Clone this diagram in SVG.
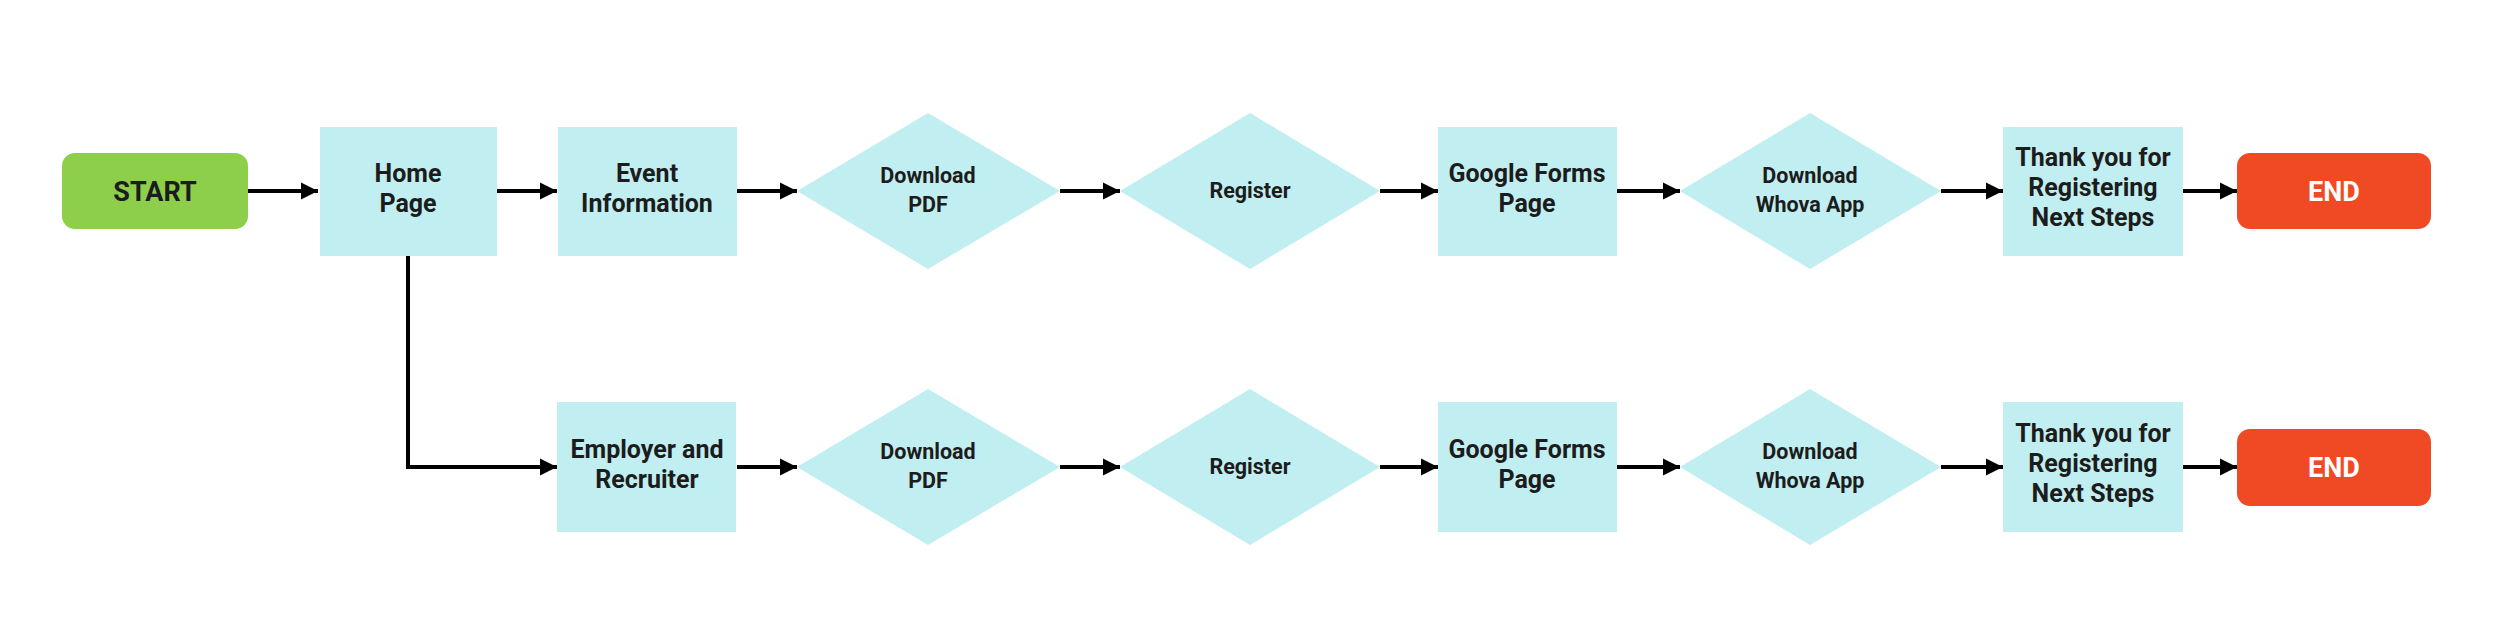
<svg xmlns="http://www.w3.org/2000/svg" width="2496" height="644" viewBox="0 0 2496 644">
<style>
.box{fill:#c1eef0}
.t{font-family:Roboto,"Liberation Sans",sans-serif;font-weight:700;fill:#1c1c1c;text-anchor:middle}
.b{font-size:25px}
.d{font-size:21.5px}
.big{font-size:27px}
.w{fill:#ffffff}
.c{fill:none;stroke:#000;stroke-width:4;marker-end:url(#ah)}
</style>
<defs>
<marker id="ah" markerUnits="userSpaceOnUse" markerWidth="18" markerHeight="18" refX="17" refY="9" orient="auto">
<path d="M0,0.5 L17,9 L0,17.5 z" fill="#000"/>
</marker>
</defs>
<rect width="2496" height="644" fill="#ffffff"/>
<g id="connectors">
<path class="c" d="M248 191 H318"/>
<path class="c" d="M497 191 H557"/>
<path class="c" d="M737 191 H797"/>
<path class="c" d="M1060 191 H1120"/>
<path class="c" d="M1380 191 H1438"/>
<path class="c" d="M1617 191 H1680"/>
<path class="c" d="M1941 191 H2003"/>
<path class="c" d="M2183 191 H2237"/>
<path class="c" d="M408 256 V467 H557"/>
<path class="c" d="M737 467 H797"/>
<path class="c" d="M1060 467 H1120"/>
<path class="c" d="M1380 467 H1438"/>
<path class="c" d="M1617 467 H1680"/>
<path class="c" d="M1941 467 H2003"/>
<path class="c" d="M2183 467 H2237"/>
</g>
<g id="start">
<rect x="62" y="153" width="186" height="76" rx="13" fill="#8dcf4b"/>
<text class="t big" x="155" y="201">START</text>
</g>
<g id="home">
<rect class="box" x="320" y="127" width="177" height="129"/>
<text class="t b" x="408" y="182">Home</text>
<text class="t b" x="408" y="212">Page</text>
</g>
<g id="event">
<rect class="box" x="558" y="127" width="179" height="129"/>
<text class="t b" x="647" y="182">Event</text>
<text class="t b" x="647" y="212">Information</text>
</g>
<g id="pdf1">
<polygon class="box" points="797,191 928,113 1060,191 928,269"/>
<text class="t d" x="928" y="183">Download</text>
<text class="t d" x="928" y="212">PDF</text>
</g>
<g id="register1">
<polygon class="box" points="1120,191 1250,113 1380,191 1250,269"/>
<text class="t d" x="1250" y="198">Register</text>
</g>
<g id="gforms1">
<rect class="box" x="1438" y="127" width="179" height="129"/>
<text class="t b" x="1527" y="182">Google Forms</text>
<text class="t b" x="1527" y="212">Page</text>
</g>
<g id="whova1">
<polygon class="box" points="1680,191 1810,113 1941,191 1810,269"/>
<text class="t d" x="1810" y="183">Download</text>
<text class="t d" x="1810" y="212">Whova App</text>
</g>
<g id="thanks1">
<rect class="box" x="2003" y="127" width="180" height="129"/>
<text class="t b" x="2093" y="166">Thank you for</text>
<text class="t b" x="2093" y="196">Registering</text>
<text class="t b" x="2093" y="226">Next Steps</text>
</g>
<g id="end1">
<rect x="2237" y="153" width="194" height="76" rx="13" fill="#f04a24"/>
<text class="t big w" x="2334" y="201">END</text>
</g>
<g id="employer">
<rect class="box" x="557" y="402" width="179" height="130"/>
<text class="t b" x="647" y="458">Employer and</text>
<text class="t b" x="647" y="488">Recruiter</text>
</g>
<g id="pdf2">
<polygon class="box" points="797,467 928,389 1060,467 928,545"/>
<text class="t d" x="928" y="459">Download</text>
<text class="t d" x="928" y="488">PDF</text>
</g>
<g id="register2">
<polygon class="box" points="1120,467 1250,389 1380,467 1250,545"/>
<text class="t d" x="1250" y="474">Register</text>
</g>
<g id="gforms2">
<rect class="box" x="1438" y="402" width="179" height="130"/>
<text class="t b" x="1527" y="458">Google Forms</text>
<text class="t b" x="1527" y="488">Page</text>
</g>
<g id="whova2">
<polygon class="box" points="1680,467 1810,389 1941,467 1810,545"/>
<text class="t d" x="1810" y="459">Download</text>
<text class="t d" x="1810" y="488">Whova App</text>
</g>
<g id="thanks2">
<rect class="box" x="2003" y="402" width="180" height="130"/>
<text class="t b" x="2093" y="442">Thank you for</text>
<text class="t b" x="2093" y="472">Registering</text>
<text class="t b" x="2093" y="502">Next Steps</text>
</g>
<g id="end2">
<rect x="2237" y="429" width="194" height="77" rx="13" fill="#f04a24"/>
<text class="t big w" x="2334" y="477">END</text>
</g>
</svg>
